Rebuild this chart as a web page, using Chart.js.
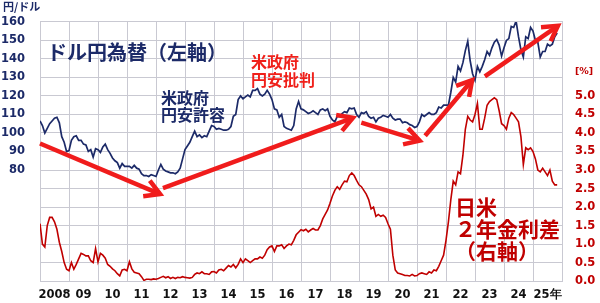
<!DOCTYPE html>
<html><head><meta charset="utf-8">
<script src="https://cdn.jsdelivr.net/npm/chart.js@4.4.1/dist/chart.umd.min.js"></script>
<style>html,body{margin:0;padding:0;background:#fff;}canvas{display:block;}</style>
</head><body>
<canvas id="c" width="600" height="303"></canvas>
<script>
// ---- data ----
const startYear = 2008;
const yearLabels = ["2008","09","10","11","12","13","14","15","16","17","18","19","20","21","22","23","24","25年"];
// USD/JPY monthly (yen per dollar), Jan 2008 - Nov 2025
const usdJpy = [
106.5,104,100,102.5,105,106.5,108,108.5,105.5,98,95,90,
90.5,96,98,98.5,96,96,94,93.5,90,91,87,91.5,
91,89.5,92.5,94,91,89,86.5,85,84,81,83.5,82,
82,82,81,82.5,81,80.5,78,77,77,76.5,77.5,77,
76.5,80,83,80.5,79.5,79,78.5,78.5,78,79,81,86,
91,93,95,98,101,98,99,97.5,98.5,98,101,104,
103.5,102,102.5,102,101.5,101.5,102,103.5,109,110,118,120,
118.5,119.5,120.5,119.5,123,123,124,121,120,121,123,121,
118,113,112.5,108.5,110,103.5,102.5,102,101.5,104,113,117,
113,112.5,111.5,110.5,111,112,111,110,112.5,113,112,113,
109,107,106,109,109,110.5,111.5,111,113.5,113,113.5,110,
108.5,111,110.5,111.5,109,108,108.5,106,108,108.5,109.5,109,
108.5,110,108,107,107.5,107.5,105.5,106,105.5,104.5,104,103,
103.5,106,110,109,110,111,110,110,111,114,113.5,115,
115,115,122,130,127.5,136,133.5,138,144.5,149.5,139,132,
128.5,136,133,136,139.5,144,142,146,149,150.5,147.5,141.5,
146,150,151,157.5,157,160.5,152,145,141,152,151,157,
155,150,149,141,144,144,148,147,148,152,154
];
// Japan-US 2-year yield spread (%), Jan 2008 - Nov 2025
const spread = [
1.55,1.0,0.92,1.5,1.72,1.72,1.6,1.4,1.05,0.8,0.5,0.32,
0.28,0.5,0.32,0.45,0.6,0.75,0.72,0.68,0.68,0.55,0.5,0.88,
0.52,0.75,0.7,0.62,0.45,0.4,0.33,0.28,0.2,0.14,0.3,0.32,
0.28,0.52,0.33,0.24,0.22,0.2,0.12,0.02,0.05,0.05,0.04,0.06,
0.05,0.07,0.1,0.13,0.09,0.12,0.07,0.1,0.07,0.1,0.09,0.12,
0.1,0.09,0.08,0.1,0.18,0.22,0.2,0.25,0.2,0.2,0.18,0.25,
0.26,0.22,0.3,0.32,0.28,0.35,0.42,0.38,0.45,0.36,0.45,0.6,
0.5,0.6,0.55,0.5,0.55,0.6,0.6,0.65,0.62,0.7,0.85,0.92,
0.95,0.8,0.95,0.95,0.98,0.88,0.95,1.0,0.98,1.1,1.25,1.32,
1.39,1.36,1.4,1.33,1.38,1.42,1.38,1.38,1.5,1.68,1.8,1.92,
2.1,2.3,2.45,2.55,2.48,2.6,2.7,2.68,2.85,2.92,2.85,2.72,
2.6,2.55,2.45,2.35,2.2,1.95,2.0,1.75,1.8,1.75,1.78,1.72,
1.55,1.4,0.7,0.3,0.22,0.2,0.18,0.15,0.15,0.14,0.18,0.14,
0.15,0.2,0.22,0.2,0.18,0.25,0.22,0.3,0.28,0.4,0.55,0.7,
1.1,1.6,2.2,2.7,2.6,2.95,2.9,3.4,4.1,4.45,4.35,4.3,
4.5,4.8,4.1,4.1,4.4,4.75,4.85,4.9,4.95,4.9,4.6,4.25,
4.2,4.1,4.4,4.55,4.5,4.4,4.3,3.9,3.15,3.6,3.55,3.6,
3.5,3.3,3.0,2.95,3.05,2.95,2.85,3.0,2.7,2.6,2.6
];
// trend arrows on the left axis: [year, yen]
const arrowFrom = [[2008.0,94.3],[2012.24,70.2],[2019.08,105.6],[2021.28,98.5],[2023.34,130.6]];
const arrowTo   = [[2012.14,67.0],[2018.79,108.2],[2021.09,95.9],[2022.9,128.5],[2025.86,157.9]];

// ---- build ----
const toPoints = arr => arr.map((v,i)=>({x: startYear + i/12, y: v}));

const NAVY = '#1c2a68';
const DRED = '#c00000';
const GRID = '#c9c9d2';
const TICKFONT = {family:'"DejaVu Sans", Verdana, sans-serif', size:11.5, weight:'bold'};
const JP = '"Noto Sans CJK JP", sans-serif';

const overlay = {
  id:'overlay',
  afterDatasetsDraw(chart){
    const ctx = chart.ctx, xs = chart.scales.x, ys = chart.scales.y;
    ctx.save();
    // arrows
    ctx.strokeStyle = '#f01c1c';
    ctx.lineWidth = 4.5;
    ctx.lineCap = 'butt';
    ctx.lineJoin = 'miter';
    for (let i=0;i<arrowFrom.length;i++){
      const x0 = xs.getPixelForValue(arrowFrom[i][0]), y0 = ys.getPixelForValue(arrowFrom[i][1]);
      const x1 = xs.getPixelForValue(arrowTo[i][0]),   y1 = ys.getPixelForValue(arrowTo[i][1]);
      const ang = Math.atan2(y1-y0, x1-x0);
      ctx.beginPath(); ctx.moveTo(x0,y0); ctx.lineTo(x1,y1); ctx.stroke();
      const L = 17, a = Math.PI/6;
      ctx.beginPath();
      ctx.moveTo(x1 - L*Math.cos(ang-a), y1 - L*Math.sin(ang-a));
      ctx.lineTo(x1, y1);
      ctx.lineTo(x1 - L*Math.cos(ang+a), y1 - L*Math.sin(ang+a));
      ctx.stroke();
    }
    // texts
    ctx.textBaseline = 'middle';
    ctx.textAlign = 'left';
    ctx.fillStyle = NAVY;
    ctx.font = 'bold 11px ' + JP;
    ctx.fillText('円/ドル', 3, 7);
    ctx.font = 'bold 20px ' + JP;
    ctx.fillText('ドル円為替（左軸）', 47, 52);
    ctx.font = 'bold 16px ' + JP;
    ctx.fillText('米政府', 161, 98);
    ctx.fillText('円安許容', 161, 115);
    ctx.fillStyle = '#f0201a';
    ctx.fillText('米政府', 251, 61.5);
    ctx.fillText('円安批判', 251, 80);
    ctx.fillStyle = DRED;
    ctx.font = 'bold 21px ' + JP;
    ctx.fillText('日米', 455, 207);
    ctx.fillText('２年金利差', 455, 229);
    ctx.fillText('（右軸）', 455, 251);
    ctx.font = 'bold 9.5px "DejaVu Sans", sans-serif';
    ctx.fillText('[%]', 575, 72);
    ctx.restore();
  }
};

new Chart(document.getElementById('c'), {
  type:'line',
  data:{
    datasets:[
      {label:'ドル円', data: toPoints(usdJpy), yAxisID:'y', borderColor:NAVY, borderWidth:1.7, pointRadius:0, tension:0},
      {label:'日米2年金利差', data: toPoints(spread), yAxisID:'y1', borderColor:DRED, borderWidth:1.6, pointRadius:0, tension:0}
    ]
  },
  options:{
    responsive:false, animation:false, devicePixelRatio:1,
    layout:{padding:{left:0,right:0,top:20,bottom:0}},
    plugins:{legend:{display:false}, tooltip:{enabled:false}},
    scales:{
      x:{
        type:'linear', min:2008, max:2026,
        afterFit(s){ s.height = 21; },
        grid:{color:GRID, lineWidth:1, drawTicks:false},
        border:{color:GRID},
        ticks:{stepSize:1, autoSkip:false, maxRotation:0, maxTicksLimit:40, padding:7, labelOffset:14.5,
               color:'#111', font:TICKFONT,
               callback(v){ const i = Math.round(v) - startYear; return yearLabels[i] !== undefined ? yearLabels[i] : ''; }}
      },
      y:{
        position:'left', min:20, max:160,
        afterFit(s){ s.width = 40; },
        grid:{color:GRID, lineWidth:1, drawTicks:false},
        border:{color:GRID},
        ticks:{stepSize:10, maxTicksLimit:40, padding:15, color:NAVY, font:TICKFONT,
               callback(v){ return v >= 80 ? String(v) : ''; }}
      },
      y1:{
        position:'right', min:0, max:7,
        afterFit(s){ s.width = 38; },
        grid:{display:false, drawTicks:false},
        border:{color:GRID},
        ticks:{stepSize:0.5, maxTicksLimit:40, padding:13, color:DRED, font:TICKFONT,
               callback(v){ return v <= 5.0001 ? v.toFixed(1) : ''; }}
      }
    }
  },
  plugins:[overlay]
});
</script>
</body></html>
